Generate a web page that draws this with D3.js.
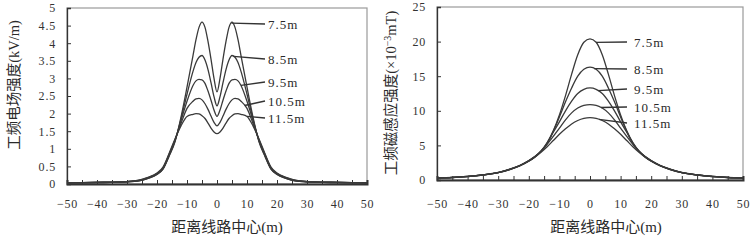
<!DOCTYPE html>
<html>
<head>
<meta charset="utf-8">
<script src="https://cdn.jsdelivr.net/npm/d3@7"></script>
<style>
  body { margin: 0; background: #fff; }
  text { font-family: "Liberation Serif", "Noto Sans CJK SC", serif; fill: #2a2a2a; }
</style>
</head>
<body>
<div id="chart"></div>
<script>
// heights of the line (series names)
const heights = ['7.5m', '8.5m', '9.5m', '10.5m', '11.5m'];

// ---- electric field (kV/m) ----
const xsE = [-50,-40,-30,-26,-23,-20,-18,-16,-14,-12,-10,-8,-7,-6,-5,-4,-3,-2,-1,0,
             1,2,3,4,5,6,7,8,10,12,14,16,18,20,23,26,30,40,50];
const e75  = [0.03,0.04,0.06,0.09,0.16,0.27,0.42,0.78,1.2,1.9,2.75,3.65,4.1,4.45,4.6,4.45,4.05,3.55,3.0,2.62,
              3.0,3.55,4.05,4.45,4.6,4.45,4.1,3.65,2.75,1.9,1.2,0.78,0.42,0.27,0.16,0.09,0.06,0.04,0.03];
const e85  = [0.03,0.04,0.06,0.09,0.16,0.28,0.43,0.8,1.22,1.85,2.55,3.2,3.45,3.6,3.65,3.52,3.25,2.88,2.48,2.22,
              2.48,2.88,3.25,3.52,3.65,3.6,3.45,3.2,2.55,1.85,1.22,0.8,0.43,0.28,0.16,0.09,0.06,0.04,0.03];
const e95  = [0.03,0.04,0.07,0.1,0.17,0.29,0.44,0.82,1.24,1.8,2.35,2.8,2.93,2.97,2.96,2.86,2.64,2.38,2.1,1.92,
              2.1,2.38,2.64,2.86,2.96,2.97,2.93,2.8,2.35,1.8,1.24,0.82,0.44,0.29,0.17,0.1,0.07,0.04,0.03];
const e105 = [0.03,0.05,0.07,0.1,0.18,0.3,0.46,0.84,1.26,1.72,2.15,2.35,2.42,2.43,2.39,2.28,2.12,1.93,1.75,1.65,
              1.75,1.93,2.12,2.28,2.39,2.43,2.42,2.35,2.15,1.72,1.26,0.84,0.46,0.3,0.18,0.1,0.07,0.05,0.03];
const e115 = [0.03,0.05,0.07,0.11,0.19,0.31,0.48,0.86,1.28,1.65,1.92,1.98,2.0,1.99,1.94,1.86,1.73,1.59,1.48,1.43,
              1.48,1.59,1.73,1.86,1.94,1.99,2.0,1.98,1.92,1.65,1.28,0.86,0.48,0.31,0.19,0.11,0.07,0.05,0.03];

// ---- magnetic field (x10^-3 mT) ----
const xsB = [-50,-45,-40,-35,-30,-26,-23,-20,-18,-16,-14,-12,-10,-8,-6,-4,-2,0,
             2,4,6,8,10,12,14,16,18,20,23,26,30,35,40,45,50];
const b75  = [0.3,0.37,0.52,0.75,1.1,1.6,2.1,2.8,3.4,4.2,5.4,7.1,9.4,12.2,15.3,18.1,19.9,20.4,
              19.9,18.1,15.3,12.2,9.4,7.1,5.4,4.2,3.4,2.8,2.1,1.6,1.1,0.75,0.52,0.37,0.3];
const b85  = [0.3,0.37,0.52,0.74,1.08,1.58,2.08,2.78,3.38,4.18,5.35,7.05,9.1,11.3,13.3,15.0,16.0,16.3,
              16.0,15.0,13.3,11.3,9.1,7.05,5.35,4.18,3.38,2.78,2.08,1.58,1.08,0.74,0.52,0.37,0.3];
const b95  = [0.29,0.36,0.51,0.73,1.07,1.56,2.06,2.76,3.36,4.16,5.3,6.9,8.4,10.0,11.4,12.5,13.1,13.3,
              13.1,12.5,11.4,10.0,8.4,6.9,5.3,4.16,3.36,2.76,2.06,1.56,1.07,0.73,0.51,0.36,0.29];
const b105 = [0.29,0.36,0.5,0.72,1.06,1.55,2.04,2.74,3.34,4.12,5.15,6.3,7.5,8.7,9.7,10.4,10.8,10.9,
              10.8,10.4,9.7,8.7,7.5,6.3,5.15,4.12,3.34,2.74,2.04,1.55,1.06,0.72,0.5,0.36,0.29];
const b115 = [0.28,0.35,0.5,0.71,1.05,1.53,2.02,2.7,3.3,4.0,4.8,5.7,6.6,7.4,8.1,8.6,8.9,9.0,
              8.9,8.6,8.1,7.4,6.6,5.7,4.8,4.0,3.3,2.7,2.02,1.53,1.05,0.71,0.5,0.35,0.28];

// where the label leaders leave each curve (x in m)
const leaderE = [4.8, 5.5, 8, 9.2, 10];
const leaderB = [2, 1.3, 2.6, 3.6, 2.9];

const xTicks = d3.range(-50, 51, 5);

const svg = d3.select('#chart').append('svg')
  .attr('width', 752)
  .attr('height', 240);

function drawPanel(p) {
  const x = d3.scaleLinear().domain([-50, 50]).range([p.left, p.right]);
  const y = d3.scaleLinear().domain([0, p.yMax]).range([p.bottom, p.top]);
  const g = svg.append('g');

  // frame (top / right in light grey)
  g.append('rect')
    .attr('x', p.left).attr('y', p.top)
    .attr('width', p.right - p.left).attr('height', p.bottom - p.top)
    .style('fill', 'none').style('stroke', '#9a9a9a').style('stroke-width', 1.2);

  // y axis, ticks pointing inside
  const ya = g.append('g')
    .attr('transform', `translate(${p.left},0)`)
    .call(d3.axisLeft(y).tickValues(d3.range(0, p.yMax + 0.001, p.yStep))
      .tickSize(-4).tickPadding(11).tickFormat(d3.format('~g')));
  ya.select('.domain').style('stroke', '#333').style('stroke-width', 1.3);
  ya.selectAll('.tick line').style('stroke', '#333');
  ya.selectAll('text').style('font-size', '12px').style('letter-spacing', '0.8px')
    .style('font-family', '"Liberation Serif", serif').style('fill', '#333');

  // x axis on the zero line
  const xa = g.append('g')
    .attr('transform', `translate(0,${p.bottom})`)
    .call(d3.axisBottom(x).tickValues(xTicks).tickSize(-4).tickPadding(p.xPad)
      .tickFormat(d => d % 10 === 0 ? d3.format('d')(d) : ''));
  xa.select('.domain').style('stroke', '#333').style('stroke-width', 2);
  xa.selectAll('.tick line').style('stroke', '#333');
  xa.selectAll('text').style('font-size', '12px').style('letter-spacing', '0.8px')
    .style('font-family', '"Liberation Serif", serif').style('fill', '#333');

  // curves
  const line = d3.line()
    .x(d => x(d[0]))
    .y(d => y(d[1]))
    .curve(d3.curveMonotoneX);

  p.series.forEach((vals, i) => {
    const pts = p.xs.map((xv, k) => [xv, vals[k]]);
    g.append('path')
      .attr('d', line(pts))
      .style('fill', 'none')
      .style('stroke', '#3a3a3a')
      .style('stroke-width', 1.3);

    // leader line from the curve to its label
    const at = d3.scaleLinear().domain(p.xs).range(vals);
    const lx = x(p.leader[i]);
    const ly = y(at(p.leader[i]));
    const ty = p.labelY[i];
    g.append('line')
      .attr('x1', lx).attr('y1', ly)
      .attr('x2', p.leaderEnd).attr('y2', ty)
      .style('stroke', '#333').style('stroke-width', 1.3);
    g.append('text')
      .attr('x', p.labelX)
      .attr('y', ty + 4.5)
      .style('font-size', '13px')
      .style('letter-spacing', '1px')
      .text(heights[i]);
  });

  // axis titles
  g.append('text')
    .attr('x', (p.left + p.right) / 2 + p.xTitleShift)
    .attr('y', 232)
    .attr('text-anchor', 'middle')
    .style('font-size', '15px')
    .text('距离线路中心(m)');

  const yt = g.append('text')
    .attr('transform', `translate(${p.yTitleX},${p.yTitleY})rotate(-90)`)
    .attr('text-anchor', 'middle')
    .style('font-size', '14.5px');
  p.yTitle(yt);
}

drawPanel({
  left: 67, right: 367, top: 8, bottom: 184,
  yMax: 5, yStep: 0.5, xPad: 15,
  xs: xsE, series: [e75, e85, e95, e105, e115], leader: leaderE,
  leaderEnd: 265, labelX: 268, labelY: [24, 59, 82, 101, 118],
  xTitleShift: 10, yTitleX: 19, yTitleY: 85,
  yTitle: t => t.text('工频电场强度(kV/m)')
});

drawPanel({
  left: 437, right: 743, top: 7, bottom: 180,
  yMax: 25, yStep: 5, xPad: 19,
  xs: xsB, series: [b75, b85, b95, b105, b115], leader: leaderB,
  leaderEnd: 627, labelX: 634, labelY: [42, 69, 89, 107, 123],
  xTitleShift: 16, yTitleX: 396, yTitleY: 93,
  yTitle: t => {
    t.append('tspan').text('工频磁感应强度(×10');
    t.append('tspan').attr('dy', -5).style('font-size', '10px').text('−3');
    t.append('tspan').attr('dy', 5).text('mT)');
  }
});
</script>
</body>
</html>
